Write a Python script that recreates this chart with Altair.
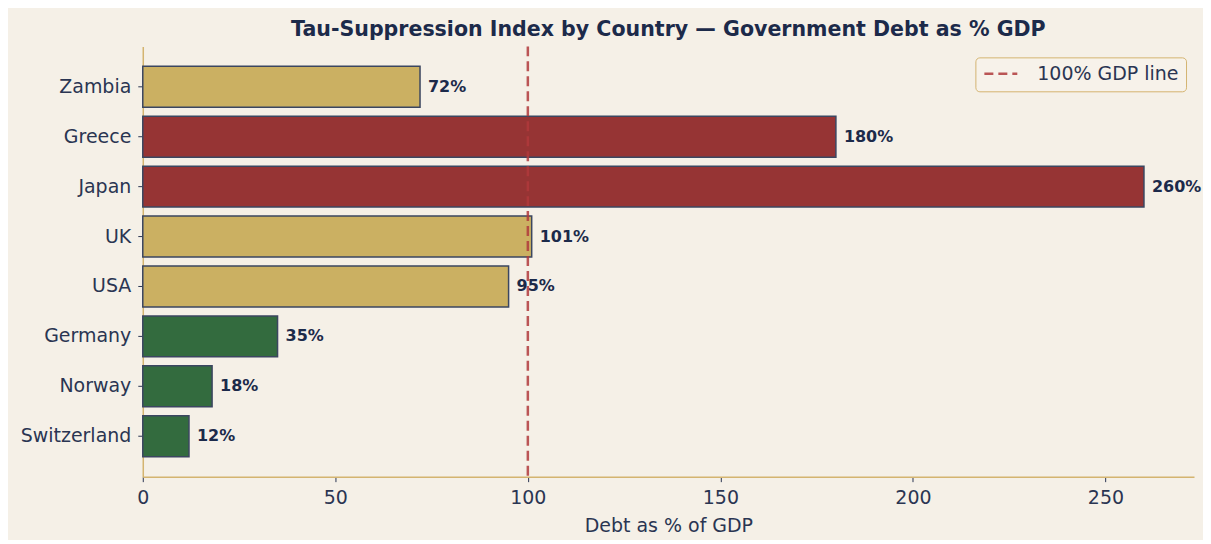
import altair as alt
import pandas as pd

countries = ["Zambia", "Greece", "Japan", "UK", "USA", "Germany", "Norway", "Switzerland"]
debt = [72, 180, 260, 101, 95, 35, 18, 12]
tier = ["mid", "high", "high", "mid", "mid", "low", "low", "low"]
tier_domain = ["high", "mid", "low"]
tier_colors = ["#963434", "#cbb062", "#336b3e"]
ref_value = [100]
ref_label = ["100% GDP line"]
x_ticks = [0, 50, 100, 150, 200, 250]

bars_df = pd.DataFrame({"country": countries, "debt": debt, "tier": tier,
                        "label": [f"{v}%" for v in debt]})
ref_df = pd.DataFrame({"x": ref_value, "name": ref_label})

FONT = "DejaVu Sans"
NAVY = "#1c2a4a"
GOLD = "#d4b470"
BG = "#f5f0e7"
LBL = "#2a3552"

y_enc = alt.Y("country:N", sort=countries, title=None,
              scale=alt.Scale(paddingInner=0.18, paddingOuter=0.40),
              axis=alt.Axis(labelFont=FONT, labelFontSize=19, labelColor=LBL,
                            tickColor=LBL, tickSize=5, labelPadding=7,
                            domainColor=GOLD, domainWidth=1.5))
x_scale = alt.Scale(domain=[0, 273], nice=False, zero=True)
x_axis = alt.Axis(values=x_ticks, labelFont=FONT, labelFontSize=19, labelColor=LBL,
                  tickColor=LBL, tickSize=5, labelPadding=7, grid=False, labelFlush=False,
                  domainColor=GOLD, domainWidth=1.5, title="Debt as % of GDP",
                  titleFont=FONT, titleFontSize=19, titleFontWeight="normal",
                  titleColor=LBL, titlePadding=9)

bars = alt.Chart(bars_df).mark_bar(stroke="#3b4660", strokeWidth=1.5).encode(
    x=alt.X("debt:Q", scale=x_scale, axis=x_axis),
    y=y_enc,
    color=alt.Color("tier:N", scale=alt.Scale(domain=tier_domain, range=tier_colors), legend=None),
)

rule = alt.Chart(ref_df).mark_rule(strokeDash=[10, 5], strokeWidth=2.5, opacity=0.85).encode(
    x=alt.X("x:Q", scale=x_scale),
    color=alt.Color("name:N", scale=alt.Scale(domain=ref_label, range=["#b03a3c"]),
                    legend=alt.Legend(title=None, orient="none", legendX=834, legendY=11,
                                      symbolType="M-2,0L2,0", symbolDash=[9, 5],
                                      symbolStrokeWidth=2.5, symbolFillColor="transparent",
                                      symbolOpacity=0.85, symbolOffset=9,
                                      symbolSize=272, labelFont=FONT, labelFontSize=19,
                                      labelColor=LBL, labelOffset=27, padding=7,
                                      fillColor="#f7f2ea", strokeColor=GOLD, cornerRadius=4)),
)

text = alt.Chart(bars_df).mark_text(align="left", baseline="middle", dx=8, font=FONT,
                                     fontSize=16, fontWeight="bold", color=NAVY).encode(
    x=alt.X("debt:Q", scale=x_scale),
    y=alt.Y("country:N", sort=countries),
    text="label:N",
)

chart = alt.layer(bars, rule, text).resolve_scale(color="independent").properties(
    width=1053, height=431,
    background=BG,
    padding={"left": 135, "top": 38, "right": 9, "bottom": 63},
    autosize=alt.AutoSizeParams(type="none"),
    title=alt.TitleParams("Tau-Suppression Index by Country — Government Debt as % GDP",
                          font=FONT, fontSize=20.6, fontWeight="bold", color=NAVY, offset=5),
).configure_view(stroke=None).configure_axis(domainColor=GOLD)

chart.save("out.html", embed_options={"renderer": "svg", "actions": False})
